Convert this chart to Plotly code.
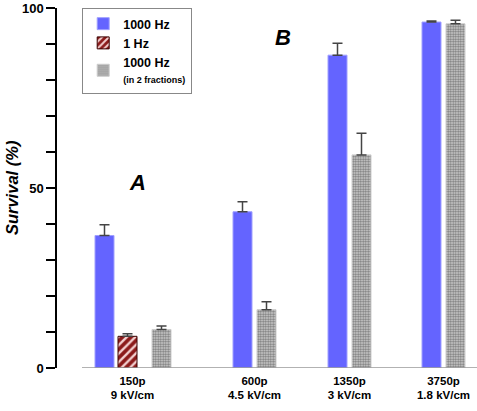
import plotly.graph_objects as go

# ---- data ----
groups = ["150p<br>9 kV/cm", "600p<br>4.5 kV/cm", "1350p<br>3 kV/cm", "3750p<br>1.8 kV/cm"]
hz1000_vals = [36.8, 43.4, 86.9, 96.1]
hz1000_err = [3.0, 2.8, 3.3, 0.3]
hz1_vals = [8.8]
hz1_err = [0.7]
frac_vals = [10.7, 16.2, 59.2, 95.6]
frac_err = [1.0, 2.2, 6.0, 1.0]

# ---- layout positions (axis units ~ pixels) ----
group_pos = [75.5, 197.5, 292.5, 386.5]
bar_w = 19
blue_off = [-37.5, -21.5, -21.5, -21.5]
red_off = [-14.5]
gray_off = [19.5, 2.5, 2.5, 2.5]

fig = go.Figure()
fig.add_trace(go.Bar(
    x=group_pos, y=hz1000_vals, name="1000 Hz",
    offset=blue_off, width=bar_w,
    marker=dict(color="#6464ff", line=dict(color="#a0a0ff", width=1)),
    error_y=dict(type="data", symmetric=False, array=hz1000_err, arrayminus=[0]*4,
                 color="#444", thickness=1.5, width=5),
    legendgroup="a",
))
fig.add_trace(go.Bar(
    x=group_pos[:1], y=hz1_vals, name="1 Hz",
    offset=red_off, width=bar_w,
    marker=dict(color="#8b1a1a", line=dict(color="#3a0000", width=1),
                pattern=dict(shape="/", bgcolor="#8b1a1a", fgcolor="#f3d0d0",
                             size=6, solidity=0.4, fillmode="replace")),
    error_y=dict(type="data", symmetric=False, array=hz1_err, arrayminus=[0],
                 color="#444", thickness=1.5, width=5),
    legendgroup="b",
))
fig.add_trace(go.Bar(
    x=group_pos, y=frac_vals,
    name="1000 Hz<br><span style='font-size:9px'>(in 2 fractions)</span>",
    offset=gray_off, width=bar_w,
    marker=dict(color="#aaaaaa", line=dict(color="#cccccc", width=1),
                pattern=dict(shape=".", bgcolor="#d8d8d8", fgcolor="#7a7a7a",
                             size=2.5, solidity=0.55, fillmode="replace")),
    error_y=dict(type="data", symmetric=False, array=frac_err, arrayminus=[0]*4,
                 color="#444", thickness=1.5, width=5),
    legendgroup="c",
))

# x baseline (gap from y axis)
fig.add_shape(type="line", xref="x", yref="y", x0=25, x1=420, y0=0, y1=0,
              line=dict(color="#999999", width=1.5))

yt = list(range(0, 101, 10))
ytt = [str(v) if v % 50 == 0 else "" for v in yt]

fig.update_layout(
    width=477, height=411,
    margin=dict(l=57, r=0, t=8, b=43, autoexpand=False),
    plot_bgcolor="white", paper_bgcolor="white",
    font=dict(family="Liberation Sans, Arial, sans-serif", color="black"),
    barmode="overlay",
    showlegend=True,
    legend=dict(x=0.06, y=1.0, xanchor="left", yanchor="top",
                bordercolor="#888", borderwidth=1, bgcolor="white",
                font=dict(size=12.5, family="Liberation Sans, Arial", weight="bold"),
                tracegroupgap=7, traceorder="normal"),
    xaxis=dict(range=[0, 420], tickvals=group_pos, ticktext=groups,
               showline=False, showgrid=False, zeroline=False, ticks="",
               automargin=False, ticklabelstandoff=4,
               tickfont=dict(size=11.5, weight="bold"), fixedrange=True),
    yaxis=dict(range=[0, 100], tickvals=yt, ticktext=ytt, ticks="outside",
               ticklen=9, tickwidth=1.5, tickcolor="black",
               showline=True, linecolor="black", linewidth=1.5,
               showgrid=False, zeroline=False, automargin=False,
               tickfont=dict(size=13, weight="bold")),
)

fig.add_annotation(text="<b><i>Survival (%)</i></b>", textangle=-90,
                   xref="paper", yref="paper", x=-0.107, y=0.5,
                   xanchor="center", yanchor="middle", showarrow=False,
                   font=dict(size=16.5))
fig.add_annotation(text="<b><i>A</i></b>", xref="x", yref="y", x=80, y=51.4,
                   showarrow=False, font=dict(size=22))
fig.add_annotation(text="<b><i>B</i></b>", xref="x", yref="y", x=226, y=91.7,
                   showarrow=False, font=dict(size=22))

fig.write_html("out.html", config={"displayModeBar": False},
               post_script="document.body.style.margin='0';document.body.style.overflow='hidden';")
